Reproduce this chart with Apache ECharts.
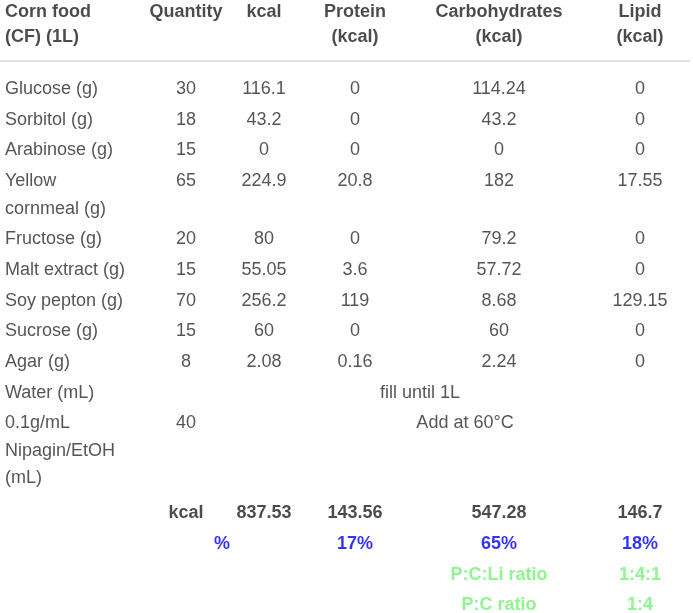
<!DOCTYPE html>
<html>
<head>
<meta charset="utf-8">
<title>Corn food composition</title>
<script src="https://cdn.jsdelivr.net/npm/echarts@6/dist/echarts.min.js"></script>
<style>
	html, body { margin: 0; padding: 0; background: #fff; }
	#main { width: 693px; height: 613px; }
</style>
</head>
<body>
<div id="main"></div>
<script>
// table content
var headers = ['Corn food\n(CF) (1L)', 'Quantity', 'kcal', 'Protein\n(kcal)', 'Carbohydrates\n(kcal)', 'Lipid\n(kcal)'];
var ingredients = ['Glucose (g)', 'Sorbitol (g)', 'Arabinose (g)', 'Yellow\ncornmeal (g)', 'Fructose (g)',
	'Malt extract (g)', 'Soy pepton (g)', 'Sucrose (g)', 'Agar (g)', 'Water (mL)', '0.1g/mL\nNipagin/EtOH\n(mL)'];
var quantity = [30, 18, 15, 65, 20, 15, 70, 15, 8, null, 40];
var kcal = [116.1, 43.2, 0, 224.9, 80, 55.05, 256.2, 60, 2.08, null, null];
var protein = [0, 0, 0, 20.8, 0, 3.6, 119, 0, 0.16, null, null];
var carbohydrates = [114.24, 43.2, 0, 182, 79.2, 57.72, 8.68, 60, 2.24, null, null];
var lipid = [0, 0, 0, 17.55, 0, 0, 129.15, 0, 0, null, null];
var notes = [null, null, null, null, null, null, null, null, null, 'fill until 1L', 'Add at 60\u00b0C'];
var totalLabel = 'kcal';
var totals = [837.53, 143.56, 547.28, 146.7];
var percentLabel = '%';
var percents = ['17%', '65%', '18%'];
var ratioLabels = ['P:C:Li ratio', 'P:C ratio'];
var ratios = ['1:4:1', '1:4'];

// layout
var W = 693, H = 613;
var colX = [5, 186, 264, 355, 499, 640];
var noteX = { 'fill until 1L': 420, 'Add at 60\u00b0C': 465 };
var percentLabelX = 222;
var headerTop = 0, headerLine = 25;
var bodyTop = 89, rowPitch = 30.7, wrapLine = 27.5, summaryGap = 4;
var ruleY = 61;

var font = "'Liberation Sans', Arial, sans-serif";
var textColor = '#2b2b2b', boldColor = '#1e1e1e', blue = '#0000ff', green = '#74f274';

function lineCount(s) {
	return String(s).split('\n').length;
}

// y of the top of each body row (first line centred at top + wrapLine/2)
var rowTops = [];
var extra = 0;
for (var i = 0; i < ingredients.length; i++) {
	rowTops.push(bodyTop + rowPitch * i + wrapLine * extra - wrapLine / 2);
	extra += lineCount(ingredients[i]) - 1;
}
function summaryTop(k) {
	var i = ingredients.length + k;
	return bodyTop + rowPitch * i + wrapLine * extra + summaryGap - wrapLine / 2;
}

function cell(x, y, text, align) {
	return { value: [x, y, String(text)], label: { align: align || 'center' } };
}

var headerCells = [];
for (var c = 0; c < headers.length; c++) {
	headerCells.push(cell(colX[c], headerTop, headers[c], c == 0 ? 'left' : 'center'));
}

var bodyCells = [];
var bodyCols = [quantity, kcal, protein, carbohydrates, lipid];
for (var r = 0; r < ingredients.length; r++) {
	bodyCells.push(cell(colX[0], rowTops[r], ingredients[r], 'left'));
	for (var c = 0; c < bodyCols.length; c++) {
		if (bodyCols[c][r] != null) {
			bodyCells.push(cell(colX[c + 1], rowTops[r], bodyCols[c][r]));
		}
	}
	if (notes[r]) {
		bodyCells.push(cell(noteX[notes[r]], rowTops[r], notes[r]));
	}
}

var totalCells = [cell(colX[1], summaryTop(0), totalLabel)];
for (var c = 0; c < totals.length; c++) {
	totalCells.push(cell(colX[c + 2], summaryTop(0), totals[c]));
}

var percentCells = [cell(percentLabelX, summaryTop(1), percentLabel)];
for (var c = 0; c < percents.length; c++) {
	percentCells.push(cell(colX[c + 3], summaryTop(1), percents[c]));
}

var ratioCells = [];
for (var k = 0; k < ratioLabels.length; k++) {
	ratioCells.push(cell(colX[4], summaryTop(2 + k), ratioLabels[k]));
	ratioCells.push(cell(colX[5], summaryTop(2 + k), ratios[k]));
}

function textSeries(data, color, weight, lh) {
	return {
		type: 'scatter',
		data: data,
		symbolSize: 1,
		clip: false,
		itemStyle: { color: 'rgba(0,0,0,0)' },
		silent: true,
		label: {
			show: true,
			position: 'inside',
			verticalAlign: 'top',
			formatter: function (p) { return p.value[2]; },
			color: color,
			fontFamily: font,
			fontSize: 18,
			fontWeight: weight,
			lineHeight: lh,
			textBorderWidth: 0
		}
	};
}

var chart = echarts.init(document.getElementById('main'), null, { renderer: 'canvas' });
chart.setOption({
	animation: false,
	backgroundColor: '#fff',
	grid: { left: 0, right: 0, top: 0, bottom: 0 },
	xAxis: { type: 'value', min: 0, max: W, show: false },
	yAxis: { type: 'value', min: 0, max: H, inverse: true, show: false },
	graphic: [{
		type: 'line',
		shape: { x1: 0, y1: ruleY, x2: 690, y2: ruleY },
		style: { stroke: '#c6c6c6', lineWidth: 1 }
	}],
	series: [
		textSeries(headerCells, boldColor, 'bold', headerLine),
		textSeries(bodyCells, textColor, 'normal', wrapLine),
		textSeries(totalCells, boldColor, 'bold', wrapLine),
		textSeries(percentCells, blue, 'bold', wrapLine),
		textSeries(ratioCells, green, 'bold', wrapLine)
	]
});
</script>
</body>
</html>
